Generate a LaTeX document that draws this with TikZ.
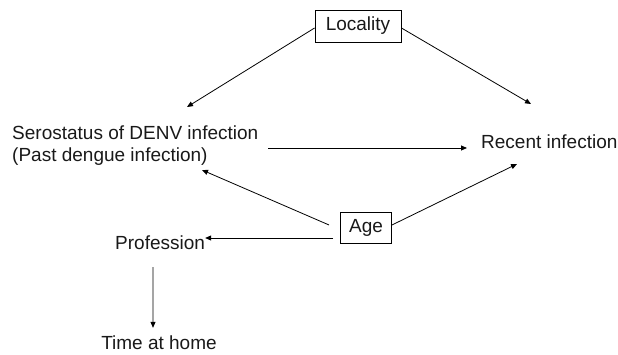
\documentclass[tikz,border=0pt]{standalone}
\usepackage{fontspec}
\setmainfont{Liberation Sans}
\usetikzlibrary{arrows.meta}
\begin{document}
\begin{tikzpicture}[x=1pt,y=-1pt,
  lbl/.style={inner sep=0pt,font=\fontsize{19}{22}\selectfont,text=black!90},
  boxed/.style={lbl,draw,line width=0.9pt},
  arr/.style={line width=0.8pt,-{Triangle[length=6pt,width=5pt]}}]
\useasboundingbox (0,0) rectangle (618,355);
\node[boxed,minimum width=86pt,minimum height=32pt] (loc) at (358,26) {Locality};
\node[lbl,anchor=west,align=left] (sero) at (12,146) {Serostatus of DENV infection\\(Past dengue infection)};
\node[lbl,anchor=west] (rec) at (481,142) {Recent infection};
\node[boxed,minimum width=51pt,minimum height=31pt] (age) at (366,228) {Age};
\node[lbl,anchor=west] (prof) at (115,243) {Profession};
\node[lbl] (time) at (159,343) {Time at home};
\draw[arr] ([shift={(0,2)}]loc.west) -- ([shift={(175,-39)}]sero.west);
\draw[arr] ([shift={(0,2)}]loc.east) -- ([shift={(50,-38)}]rec.west);
\draw[arr] ([shift={(256,2)}]sero.west) -- ([shift={(-14,6)}]rec.west);
\draw[arr] ([shift={(-11,-3)}]age.west) -- ([shift={(190,24)}]sero.west);
\draw[arr] ([shift={(0,-3)}]age.east) -- ([shift={(36,22)}]rec.west);
\draw[arr] ([shift={(-7,10)}]age.west) -- ([shift={(0,-5)}]prof.east);
\draw[arr] ([shift={(-7,17)}]prof.south) -- ([shift={(-6,-8)}]time.north);
\end{tikzpicture}
\end{document}
